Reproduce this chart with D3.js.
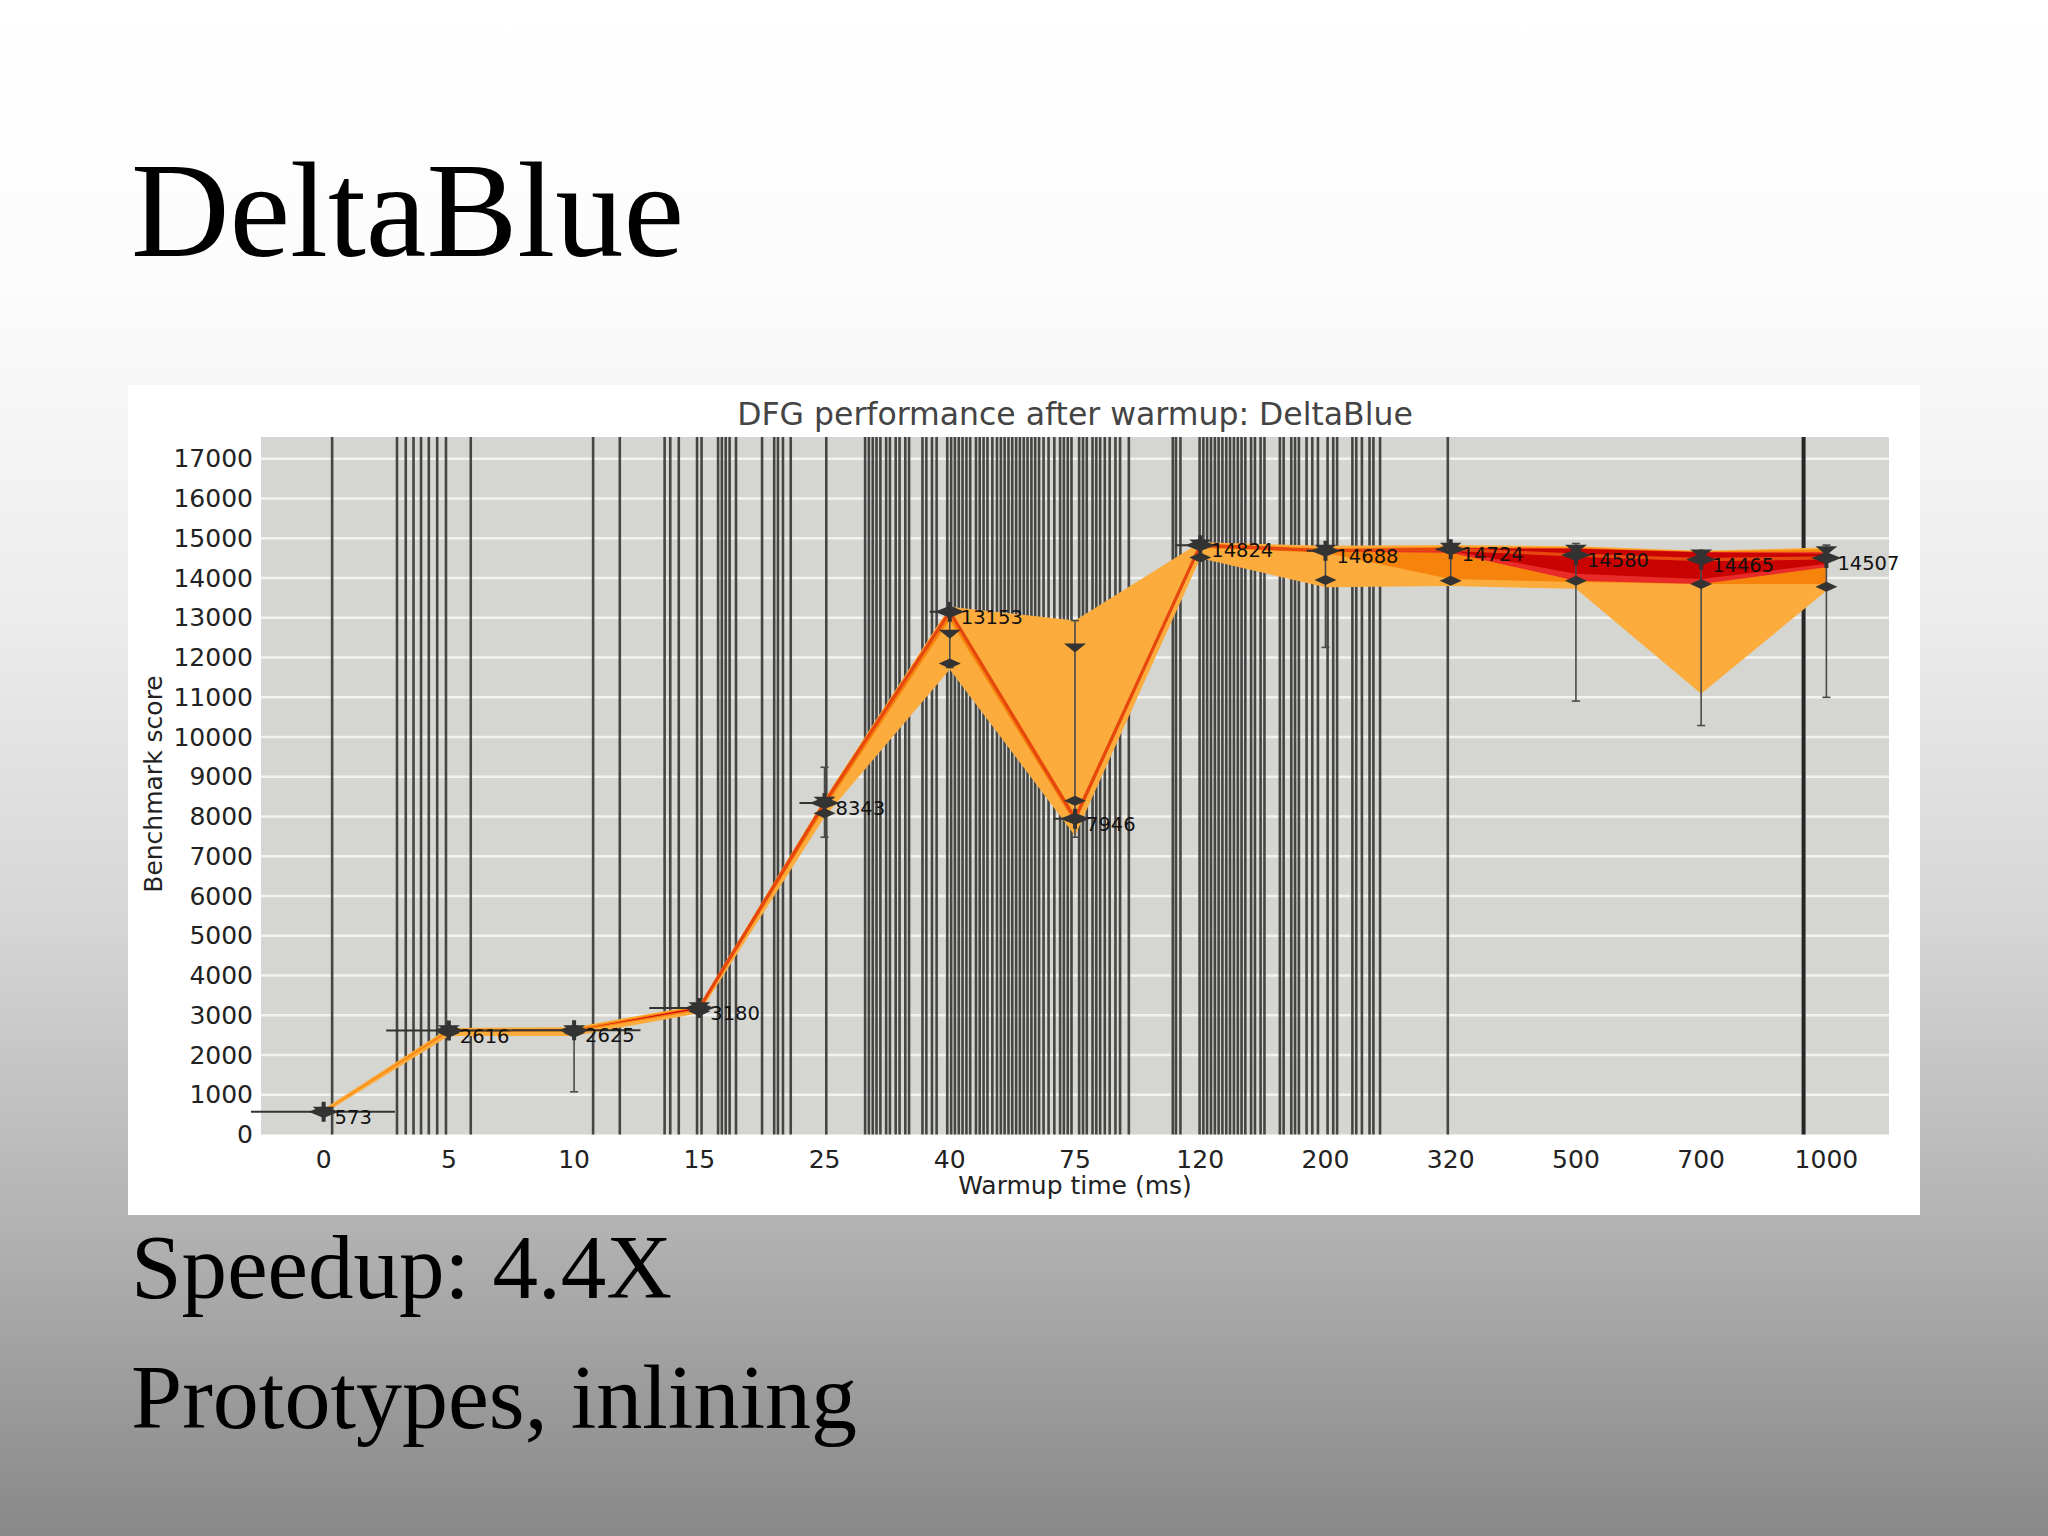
<!DOCTYPE html>
<html>
<head>
<meta charset="utf-8">
<script src="https://cdn.jsdelivr.net/npm/d3@7"></script>
<style>
  html, body { margin: 0; padding: 0; background: #fff; }
  svg { display: block; }
</style>
</head>
<body>
<script>
// ---------------- DATA ----------------
const categories = ["0","5","10","15","25","40","75","120","200","320","500","700","1000"];
const medianScore = [573, 2616, 2625, 3180, 8343, 13153, 7946, 14824, 14688, 14724, 14580, 14465, 14507];
const medianLabels = ["573","2616","2625","3180","8343","13153","7946","14824","14688","14724","14580","14465","14507"];
// percentile bands (outer -> core)
const outerHigh = [640, 2680, 2700, 3260, 8450, 13280, 12930, 14900, 14815, 14830, 14800, 14690, 14770];
const outerLow  = [520, 2480, 2480, 3050, 7990, 11700, 7520, 14500, 13770, 13800, 13730, 11090, 13680];
const midHigh   = [585, 2640, 2660, 3230, 8420, 13230, 8050, 14870, 14750, 14790, 14770, 14670, 14720];
const midLow    = [565, 2580, 2590, 3120, 8200, 12950, 7820, 14760, 14640, 13980, 13900, 13850, 13850];
const innerHigh = [573, 2616, 2625, 3205, 8380, 13190, 7990, 14850, 14720, 14760, 14745, 14655, 14650];
const innerLow  = [573, 2616, 2625, 3155, 8300, 13100, 7900, 14800, 14670, 14640, 13935, 13850, 14270];
const coreHigh  = [573, 2616, 2625, 3190, 8355, 13165, 7960, 14835, 14705, 14745, 14737, 14643, 14610];
const coreLow   = [573, 2616, 2625, 3170, 8330, 13140, 7930, 14815, 14680, 14690, 14110, 13975, 14360];
// whiskers and markers
const whiskerLow  = [560, 2560, 1075, 3100, 7480, 11750, 7480, 14450, 12256, 13900, 10905, 10290, 11000];
const whiskerHigh = [600, 2660, 2650, 3230, 9240, 13250, 12930, 14950, 14780, 14800, 14870, 14620, 14830];
const markUpper   = [600, 2650, 2650, 3230, 8400, 12600, 12256, 14870, 14740, 14790, 14740, 14620, 14700];
const markLower   = [540, 2560, 2560, 3100, 8080, 11850, 8400, 14520, 13950, 13930, 13935, 13850, 13780];
// horizontal spread bars (offsets in category units)
const spreadLeft  = [-0.58, -0.5, -0.5, -0.4, -0.2, -0.16, -0.17, -0.2, -0.15, -0.12, -0.1, -0.1, -0.1];
const spreadRight = [0.57, 0.5, 0.53, 0.07, 0.1, 0.08, 0.1, 0.15, 0.1, 0.12, 0.1, 0.1, 0.1];
// vertical event lines (position in category-index units)
const eventPositions = [
  0.068, 0.586, 0.656, 0.718, 0.778, 0.840, 0.907, 0.977, 1.175,
  2.152, 2.365, 2.723, 2.768, 2.836, 2.982, 3.018, 3.150, 3.180, 3.211, 3.242, 3.293,
  3.501, 3.598, 3.628, 3.668, 3.730, 4.014,
  4.324, 4.354, 4.385, 4.415, 4.446, 4.492, 4.522, 4.568, 4.599, 4.645, 4.675,
  4.782, 4.813, 4.858, 4.895, 4.980, 5.011, 5.041, 5.072, 5.102, 5.133, 5.163,
  5.209, 5.239, 5.270, 5.301, 5.340, 5.377, 5.408, 5.438, 5.469, 5.499, 5.530,
  5.560, 5.591, 5.621, 5.652, 5.682, 5.713, 5.749, 5.789, 5.835, 5.881, 5.911,
  5.942, 5.972, 6.033, 6.064, 6.094, 6.140, 6.170, 6.201, 6.238, 6.277, 6.323,
  6.360, 6.430,
  6.781, 6.806, 6.842, 6.995, 7.025, 7.055, 7.086, 7.117, 7.147, 7.177, 7.208,
  7.238, 7.269, 7.300, 7.330, 7.360, 7.406, 7.437, 7.482, 7.513, 7.636, 7.666,
  7.727, 7.757, 7.788, 7.849, 7.895, 7.940, 8.017, 8.062, 8.093, 8.215, 8.246,
  8.291, 8.352, 8.383, 8.436,
  8.977
];
const heavyEventPositions = [11.818];
const yTicks = [0,1000,2000,3000,4000,5000,6000,7000,8000,9000,10000,11000,12000,13000,14000,15000,16000,17000];
const medianLineStart = 3; // the red median line is visible from "15" onwards

const slideTitle = "DeltaBlue";
const chartTitle = "DFG performance after warmup: DeltaBlue";
const xLabel = "Warmup time (ms)";
const yLabel = "Benchmark score";
const bullets = ["Speedup: 4.4X", "Prototypes, inlining"];

// ---------------- DRAW ----------------
const W = 2048, H = 1536;
const svg = d3.select("body").append("svg").attr("width", W).attr("height", H);
const defs = svg.append("defs");
const grad = defs.append("linearGradient").attr("id", "bg").attr("x1", 0).attr("y1", 0).attr("x2", 0).attr("y2", 1);
[[0, "#ffffff"], [0.18, "#fcfcfc"], [0.4, "#ececec"], [0.6, "#d6d6d6"], [0.8, "#b2b2b2"], [1, "#888888"]]
  .forEach(([o, c]) => grad.append("stop").attr("offset", o).attr("stop-color", c));
svg.append("rect").attr("width", W).attr("height", H).attr("fill", "url(#bg)");

// slide text
const serif = "'Liberation Serif', 'DejaVu Serif', serif";
svg.append("text").attr("x", 131).attr("y", 256).attr("font-family", serif)
  .attr("font-size", 135).attr("fill", "#000")
  .attr("textLength", 553).attr("lengthAdjust", "spacingAndGlyphs").text(slideTitle);
svg.append("text").attr("x", 131).attr("y", 1298).attr("font-family", serif)
  .attr("font-size", 90).attr("fill", "#000")
  .attr("textLength", 541).attr("lengthAdjust", "spacingAndGlyphs").text(bullets[0]);
svg.append("text").attr("x", 131).attr("y", 1428).attr("font-family", serif)
  .attr("font-size", 90).attr("fill", "#000")
  .attr("textLength", 726).attr("lengthAdjust", "spacingAndGlyphs").text(bullets[1]);

// chart panel
svg.append("rect").attr("x", 128).attr("y", 385).attr("width", 1792).attr("height", 830).attr("fill", "#ffffff");

const plot = { left: 261, top: 437, right: 1889, bottom: 1134.5 };
const sans = "'DejaVu Sans', sans-serif";

const x = d3.scaleBand().domain(categories).range([plot.left, plot.right]).padding(0);
const cx = i => x(categories[i]) + x.bandwidth() / 2;
const xi = d3.scaleLinear().domain([0, categories.length - 1]).range([cx(0), cx(categories.length - 1)]);
const y = d3.scaleLinear().domain([0, 17550]).range([plot.bottom, plot.top]);

svg.append("rect").attr("x", plot.left).attr("y", plot.top)
  .attr("width", plot.right - plot.left).attr("height", plot.bottom - plot.top).attr("fill", "#d5d6d1");

// gridlines
svg.append("g").selectAll("line").data(yTicks.filter(v => v > 0)).join("line")
  .attr("x1", plot.left).attr("x2", plot.right)
  .attr("y1", d => y(d)).attr("y2", d => y(d))
  .attr("stroke", "#f2f2f0").attr("stroke-width", 2.5);

// event lines
svg.append("g").selectAll("line").data(eventPositions).join("line")
  .attr("x1", d => xi(d)).attr("x2", d => xi(d))
  .attr("y1", plot.top).attr("y2", plot.bottom)
  .attr("stroke", "#2b2b2b").attr("stroke-opacity", 0.85).attr("stroke-width", 2.6);
svg.append("g").selectAll("line").data(heavyEventPositions).join("line")
  .attr("x1", d => xi(d)).attr("x2", d => xi(d))
  .attr("y1", plot.top).attr("y2", plot.bottom)
  .attr("stroke", "#262626").attr("stroke-width", 4);

// bands
const idx = d3.range(categories.length);
function band(lo, hi, color) {
  const area = d3.area().x(i => cx(i)).y0(i => y(lo[i])).y1(i => y(hi[i]));
  svg.append("path").datum(idx).attr("d", area).attr("fill", color);
}
band(outerLow, outerHigh, "#fbac3c");
band(midLow, midHigh, "#f6830c");
band(innerLow, innerHigh, "#e82a28");
band(coreLow, coreHigh, "#c90202");

// median line
svg.append("path").datum(idx)
  .attr("d", d3.line().defined(i => i >= medianLineStart).x(i => cx(i)).y(i => y(medianScore[i])))
  .attr("fill", "none").attr("stroke", "#e6470e").attr("stroke-width", 3.2);

// horizontal spread bars
svg.append("g").selectAll("line").data(idx).join("line")
  .attr("x1", i => xi(i + spreadLeft[i])).attr("x2", i => xi(i + spreadRight[i]))
  .attr("y1", i => y(medianScore[i])).attr("y2", i => y(medianScore[i]))
  .attr("stroke", "#333").attr("stroke-width", 2);

// whiskers
const wg = svg.append("g");
wg.selectAll("line.w").data(idx).join("line").attr("class", "w")
  .attr("x1", cx).attr("x2", cx)
  .attr("y1", i => y(whiskerLow[i])).attr("y2", i => y(whiskerHigh[i]))
  .attr("stroke", "#4a4a4a").attr("stroke-width", 1.6);
wg.selectAll("line.cl").data(idx).join("line").attr("class", "cl")
  .attr("x1", i => cx(i) - 4).attr("x2", i => cx(i) + 4)
  .attr("y1", i => y(whiskerLow[i])).attr("y2", i => y(whiskerLow[i]))
  .attr("stroke", "#4a4a4a").attr("stroke-width", 1.6);
wg.selectAll("line.ch").data(idx).join("line").attr("class", "ch")
  .attr("x1", i => cx(i) - 4).attr("x2", i => cx(i) + 4)
  .attr("y1", i => y(whiskerHigh[i])).attr("y2", i => y(whiskerHigh[i]))
  .attr("stroke", "#4a4a4a").attr("stroke-width", 1.6);

// markers
const mk = svg.append("g").attr("fill", "#333");
mk.selectAll("path.up").data(idx).join("path").attr("class", "up")
  .attr("d", i => { const X = cx(i), Y = y(markUpper[i]); return `M${X-11},${Y-4}L${X+11},${Y-4}L${X},${Y+5}Z`; });
mk.selectAll("path.lo").data(idx).join("path").attr("class", "lo")
  .attr("d", i => { const X = cx(i), Y = y(markLower[i]); return `M${X-11},${Y}L${X},${Y-5}L${X+11},${Y}L${X},${Y+5}Z`; });
mk.selectAll("path.med").data(idx).join("path").attr("class", "med")
  .attr("d", i => { const X = cx(i), Y = y(medianScore[i]);
    return `M${X-15},${Y}L${X},${Y-6}L${X+15},${Y}L${X},${Y+6}Z M${X-2},${Y-10}L${X+2},${Y-10}L${X+2},${Y+10}L${X-2},${Y+10}Z`; });

// data labels
svg.append("g").selectAll("text").data(idx).join("text")
  .attr("x", i => cx(i) + 11).attr("y", i => y(medianScore[i]) + 12)
  .attr("font-family", sans).attr("font-size", 19.5).attr("fill", "#111")
  .text(i => medianLabels[i]);

// axes
const yAxis = d3.axisLeft(y).tickValues(yTicks).tickSize(0).tickPadding(8).tickFormat(d3.format("d"));
const gy = svg.append("g").attr("transform", `translate(${plot.left},0)`).call(yAxis);
gy.select(".domain").remove();
gy.selectAll("text").attr("font-family", sans).attr("font-size", 25).attr("fill", "#222");

const xAxis = d3.axisBottom(x).tickSize(0).tickPadding(16);
const gx = svg.append("g").attr("transform", `translate(0,${plot.bottom})`).call(xAxis);
gx.select(".domain").remove();
gx.selectAll("text").attr("font-family", sans).attr("font-size", 25).attr("fill", "#222");

// titles
svg.append("text").attr("x", (plot.left + plot.right) / 2).attr("y", 425)
  .attr("text-anchor", "middle").attr("font-family", sans).attr("font-size", 31.5).attr("fill", "#444")
  .text(chartTitle);
svg.append("text").attr("x", (plot.left + plot.right) / 2).attr("y", 1194)
  .attr("text-anchor", "middle").attr("font-family", sans).attr("font-size", 25).attr("fill", "#222")
  .text(xLabel);
svg.append("text").attr("transform", `translate(162,784) rotate(-90)`)
  .attr("text-anchor", "middle").attr("font-family", sans).attr("font-size", 25).attr("fill", "#222")
  .text(yLabel);
</script>
</body>
</html>
